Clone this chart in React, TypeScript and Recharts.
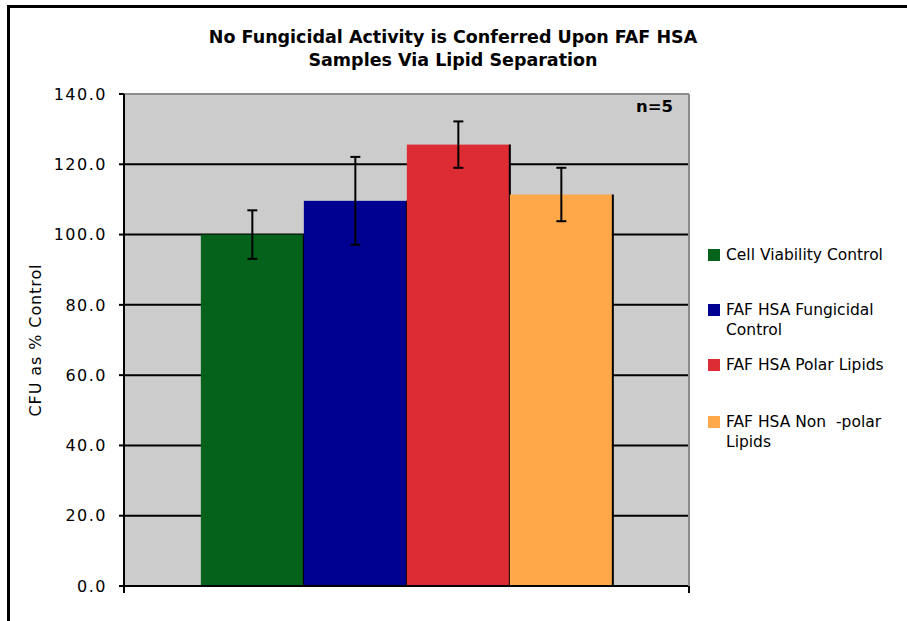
import React from 'react';
import { BarChart, Bar, XAxis, YAxis, CartesianGrid, ErrorBar, Legend } from 'recharts';

const categories = [''];
const seriesNames = [
  'Cell Viability Control',
  'FAF HSA Fungicidal\nControl',
  'FAF HSA Polar Lipids',
  'FAF HSA Non  -polar\nLipids',
];
const seriesColors = ['#05621A', '#000090', '#DD2C33', '#FFA84A'];
const seriesValues = [100.0, 109.6, 125.6, 111.4];
const seriesErrors = [6.9, 12.5, 6.6, 7.6];
const yTicks = [0, 20, 40, 60, 80, 100, 120, 140];

const data = categories.map((name) => {
  const row: Record<string, any> = { name };
  seriesValues.forEach((v, i) => {
    row[`s${i}`] = v;
    row[`e${i}`] = seriesErrors[i];
  });
  return row;
});

const FONT = '"DejaVu Sans", Verdana, sans-serif';

const BarShape = (props: any) => {
  const { x, y, width, height, fill } = props;
  return (
    <g>
      <rect x={x} y={y} width={width} height={height} fill={fill} />
      <line x1={x + width} y1={y} x2={x + width} y2={y + height} stroke="#000" strokeWidth={2} />
    </g>
  );
};

// Category boundary tick marks (Excel "between categories" ticks)
const BoundaryTick = (props: any) => {
  const { x, y, payload, width } = props;
  const half = payload && typeof payload.offset === 'number' && payload.offset > 0 ? payload.offset : width / 2;
  return (
    <g>
      <line x1={x - half} y1={y} x2={x - half} y2={y + 7} stroke="#000" strokeWidth={2} />
      <line x1={x + half} y1={y} x2={x + half} y2={y + 7} stroke="#000" strokeWidth={2} />
    </g>
  );
};

const legendTops = [5, 60, 115, 172];

const LegendContent = () => (
  <div style={{ position: 'relative', width: 207, height: 230, fontFamily: FONT, fontSize: 15.5, color: '#000' }}>
    {seriesNames.map((n, i) => (
      <div key={i} style={{ position: 'absolute', left: 0, top: legendTops[i], width: 207 }}>
        <div style={{ position: 'absolute', left: 8, top: 4, width: 12, height: 12, background: seriesColors[i] }} />
        <div style={{ position: 'absolute', left: 26, top: 0, lineHeight: '20px', whiteSpace: 'pre' }}>{n}</div>
      </div>
    ))}
  </div>
);

export default function App() {
  return (
    <div style={{ position: 'absolute', left: 0, top: 0, width: 907, height: 621, overflow: 'hidden', background: '#fff' }}>
      <BarChart
        width={907}
        height={621}
        data={data}
        margin={{ top: 93, right: 217, bottom: 34, left: 0 }}
        barCategoryGap="13.6%"
        barGap={0}
        style={{ position: 'absolute', left: 0, top: 0 }}
      >
        <CartesianGrid vertical={false} stroke="#000" strokeWidth={2} fill="#CCCCCC" />
        <XAxis
          dataKey="name"
          height={1}
          tickSize={0}
          tickMargin={0}
          tick={<BoundaryTick />}
          tickLine={false}
          axisLine={{ stroke: '#000', strokeWidth: 2 }}
        />
        <XAxis
          xAxisId="top"
          orientation="top"
          height={1}
          tick={false}
          tickLine={false}
          axisLine={{ stroke: '#8C8C8C', strokeWidth: 2 }}
        />
        <YAxis
          width={124}
          domain={[0, 140]}
          ticks={yTicks}
          interval={0}
          tickFormatter={(v: number) => v.toFixed(1)}
          tickSize={5}
          tickMargin={12}
          tick={{ fill: '#000', fontSize: 16, fontFamily: FONT, letterSpacing: 1.5 }}
          tickLine={{ stroke: '#000', strokeWidth: 2 }}
          axisLine={{ stroke: '#000', strokeWidth: 2 }}
          label={{
            value: 'CFU as  % Control',
            angle: -90,
            position: 'center',
            dx: -27,
            style: { fill: '#000', fontSize: 16, fontFamily: FONT, letterSpacing: 0.9, textAnchor: 'middle' },
          }}
        />
        <YAxis
          yAxisId="right"
          orientation="right"
          width={1}
          domain={[0, 140]}
          tick={false}
          tickLine={false}
          axisLine={{ stroke: '#8C8C8C', strokeWidth: 2 }}
        />
        <Legend
          layout="vertical"
          align="center"
          verticalAlign="middle"
          wrapperStyle={{ left: 700, top: 240, width: 207 }}
          content={<LegendContent />}
        />
        {seriesValues.map((_, i) => (
          <Bar
            key={i}
            dataKey={`s${i}`}
            name={seriesNames[i]}
            fill={seriesColors[i]}
            isAnimationActive={false}
            shape={<BarShape />}
          >
            <ErrorBar dataKey={`e${i}`} width={5} stroke="#000" strokeWidth={2} direction="y" />
          </Bar>
        ))}
      </BarChart>
      <div
        style={{
          position: 'absolute', left: 0, top: 26, width: 906, textAlign: 'center',
          fontFamily: FONT, fontWeight: 'bold', fontSize: 17.5, lineHeight: '23px', color: '#000',
        }}
      >
        No Fungicidal Activity is Conferred Upon FAF HSA
        <br />
        Samples Via Lipid Separation
      </div>
      <div
        style={{
          position: 'absolute', left: 560, top: 97, width: 113, textAlign: 'right',
          fontFamily: FONT, fontWeight: 'bold', fontSize: 16.5, lineHeight: '20px', color: '#000',
        }}
      >
        n=5
      </div>
      <div
        style={{
          position: 'absolute', left: 7, top: 5, width: 1000, height: 1000,
          border: '3px solid #000', pointerEvents: 'none',
        }}
      />
    </div>
  );
}
